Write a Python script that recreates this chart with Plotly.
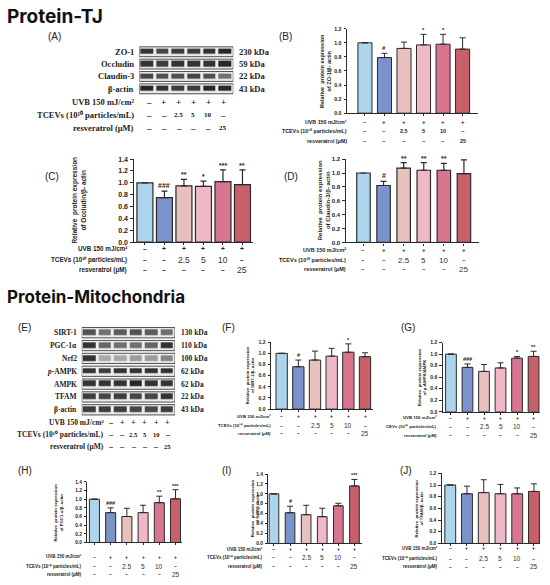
import plotly.graph_objects as go

W, H = 550, 585

# ---------------- data ----------------
groups = [0, 1, 2, 3, 4, 5]
lanes = [1, 2, 3, 4, 5, 6]
uvb_row = ["–", "+", "+", "+", "+", "+"]
tcev_row = ["–", "–", "2.5", "5", "10", "–"]
resv_row = ["–", "–", "–", "–", "–", "25"]
ticks_12 = [0.0, 0.2, 0.4, 0.6, 0.8, 1.0, 1.2]
ticks_14 = [0.0, 0.2, 0.4, 0.6, 0.8, 1.0, 1.2, 1.4]

# western blot (relative band darkness, 0-1)
tj_rows = ["ZO-1", "Occludin", "Claudin-3", "β-actin"]
tj_kda = ["230 kDa", "59 kDa", "22 kDa", "43 kDa"]
zo1_band = [0.85, 0.75, 0.80, 0.80, 0.85, 0.90]
occludin_band = [0.85, 0.80, 0.85, 0.85, 0.85, 0.90]
claudin3_band = [0.75, 0.70, 0.70, 0.75, 0.70, 0.55]
actin_tj_band = [0.90, 0.85, 0.80, 0.80, 0.90, 0.90]

mito_rows = ["SIRT-1", "PGC-1α", "Nrf2", "<i>p</i>-AMPK", "AMPK", "TFAM", "β-actin"]
mito_kda = ["130 kDa", "110 kDa", "100 kDa", "62 kDa", "62 kDa", "22 kDa", "43 kDa"]
sirt1_band = [0.70, 0.55, 0.65, 0.70, 0.65, 0.55]
pgc1a_band = [0.85, 0.60, 0.55, 0.55, 0.60, 0.85]
nrf2_band = [0.85, 0.30, 0.30, 0.35, 0.35, 0.45]
pampk_band = [0.85, 0.80, 0.85, 0.85, 0.85, 0.85]
ampk_band = [0.85, 0.85, 0.85, 0.90, 0.85, 0.85]
tfam_band = [0.80, 0.75, 0.80, 0.75, 0.75, 0.85]
actin_mito_band = [0.80, 0.80, 0.80, 0.75, 0.75, 0.80]

# quantification (mean, upper SD, significance)
zo1_mean = [1.0, 0.79, 0.92, 0.97, 0.98, 0.91]
zo1_err = [0, 0.06, 0.09, 0.15, 0.14, 0.16]
zo1_sig = ["", "#", "", "*", "*", ""]
occludin_mean = [1.0, 0.75, 0.95, 0.94, 1.02, 0.97]
occludin_err = [0, 0.11, 0.11, 0.09, 0.20, 0.25]
occludin_sig = ["", "###", "**", "*", "***", "**"]
claudin3_mean = [1.0, 0.82, 1.07, 1.04, 1.04, 0.99]
claudin3_err = [0, 0.06, 0.08, 0.11, 0.10, 0.20]
claudin3_sig = ["", "#", "**", "**", "**", ""]
sirt1_mean = [1.0, 0.76, 0.88, 0.95, 1.02, 0.94]
sirt1_err = [0, 0.12, 0.16, 0.14, 0.15, 0.07]
sirt1_sig = ["", "#", "", "", "*", ""]
pampk_mean = [1.0, 0.77, 0.70, 0.76, 0.93, 0.96]
pampk_err = [0, 0.06, 0.12, 0.09, 0.03, 0.09]
pampk_sig = ["", "###", "", "", "*", "**"]
pgc1a_mean = [1.0, 0.69, 0.60, 0.69, 0.92, 1.01]
pgc1a_err = [0, 0.11, 0.19, 0.17, 0.15, 0.21]
pgc1a_sig = ["", "###", "", "", "**", "***"]
nrf2_mean = [1.0, 0.62, 0.58, 0.54, 0.76, 1.16]
nrf2_err = [0, 0.13, 0.19, 0.17, 0.05, 0.13]
nrf2_sig = ["", "#", "", "", "", "***"]
tfam_mean = [1.0, 0.85, 0.87, 0.85, 0.85, 0.89]
tfam_err = [0, 0.13, 0.22, 0.16, 0.10, 0.13]
tfam_sig = ["", "", "", "", "", ""]

# ---------------- style ----------------
bar_colors = ["#acd5ec", "#7b93cb", "#e8c1bd", "#f0b8c6", "#d8758f", "#c8606a"]
edge = "#2a2a2a"
SANS = "Liberation Sans"
SERIF = "Liberation Serif"
UVB_LABEL = "UVB 150 mJ/cm²"
RESV_LABEL = "resveratrol (μM)"


def tcev_label(name):
    return name + " (10¹⁰ particles/mL)"


def fx(x):
    return x / W


def fy(y):
    return 1 - y / H


fig = go.Figure()
layout = dict(width=W, height=H, margin=dict(l=0, r=0, t=0, b=0),
              paper_bgcolor="white", plot_bgcolor="rgba(0,0,0,0)", showlegend=False)
annotations = []
shapes = []
counter = [0]


def new_axes(x0, x1, y_top, y_bot, xrange, yrange):
    counter[0] += 1
    n = counter[0]
    s = "" if n == 1 else str(n)
    layout["xaxis" + s] = dict(domain=[fx(x0), fx(x1)], range=xrange, anchor="y" + s,
                               visible=False, showgrid=False, zeroline=False)
    layout["yaxis" + s] = dict(domain=[fy(y_bot), fy(y_top)], range=yrange, anchor="x" + s,
                               visible=False, showgrid=False, zeroline=False)
    return "x" + s, "y" + s, s


def text_ann(x, y, text, size, xref="paper", yref="paper", xanchor="center",
             family=SANS, color="#222", angle=0, yanchor="middle", yshift=0):
    annotations.append(dict(x=x, y=y, xref=xref, yref=yref, text=text, showarrow=False,
                            xanchor=xanchor, yanchor=yanchor, textangle=angle, yshift=yshift,
                            font=dict(family=family, size=size, color=color)))


def blot_panel(box_x0, box_x1, row_top, pitch, names, kdas, bands, fs,
               sign_x0, sign_x1, sign_y0, sign_pitch, label_right, sign_fs, num_fs):
    n = len(names)
    xa, ya, s = new_axes(box_x0, box_x1, row_top, row_top + pitch * n, [0.5, 6.5], [n - 0.5, -0.5])
    fig.add_trace(go.Heatmap(z=bands, x=lanes, y=list(range(n)), zmin=0, zmax=1,
                             colorscale=[[0, "#efefef"], [0.5, "#7a7a7a"], [1, "#141414"]],
                             showscale=False, xgap=3, ygap=pitch * 0.55,
                             xaxis=xa, yaxis=ya, hoverinfo="skip"))
    for r in range(n):
        shapes.append(dict(type="rect", xref=xa, yref=ya, x0=0.5, x1=6.5, y0=r - 0.4, y1=r + 0.4,
                           line=dict(color="#3a3a3a", width=0.9), fillcolor="#ececec", layer="below"))
        text_ann(fx(box_x0 - 3), r, "<b>%s</b>" % names[r], fs, yref=ya, xanchor="right", family=SERIF)
        text_ann(fx(box_x1 + 4), r, "<b>%s</b>" % kdas[r], fs, yref=ya, xanchor="left", family=SERIF)
    # treatment table on its own (hidden) axes
    xb, yb, s2 = new_axes(sign_x0, sign_x1, sign_y0 - sign_pitch / 2, sign_y0 + sign_pitch * 2.5,
                          [0.5, 6.5], [2.5, -0.5])
    fig.add_trace(go.Scatter(x=lanes, y=[1] * 6, mode="markers", marker=dict(opacity=0, size=1),
                             xaxis=xb, yaxis=yb, hoverinfo="skip"))
    labels = [UVB_LABEL, tcev_label("TCEVs"), RESV_LABEL]
    for r, (lab, row) in enumerate(zip(labels, [uvb_row, tcev_row, resv_row])):
        text_ann(fx(label_right), r, "<b>%s</b>" % lab, fs, yref=yb, xanchor="right", family=SERIF)
        for i, t in enumerate(row):
            size = sign_fs if t in ("–", "+") else num_fs
            text_ann(lanes[i], r, "<b>%s</b>" % t, size, xref=xb, yref=yb, family=SERIF, color="#111")


def bar_panel(mean, err, sig, title2, ticks, x0, x1, y_top, y_bot, xrange, bw,
              title_x, title_fs, tick_fs, rows_y, label_right, label_fs, sign_fs, num_fs,
              star_fs, lw=1.0, cap=3, tcev_name="TCEVs", bold_nums=False, num_color="#333"):
    xa, ya, s = new_axes(x0, x1, y_top, y_bot, xrange, [0, ticks[-1]])
    fig.add_trace(go.Bar(x=groups, y=mean, width=bw,
                         marker=dict(color=bar_colors, line=dict(color=edge, width=lw)),
                         error_y=dict(type="data", symmetric=False, array=err, arrayminus=[0] * 6,
                                      color=edge, thickness=lw, width=cap),
                         xaxis=xa, yaxis=ya, hoverinfo="skip"))
    layout["xaxis" + s].update(visible=True, showline=True, linecolor=edge, linewidth=lw,
                               ticks="outside", ticklen=2, tickwidth=lw, tickcolor=edge,
                               tickvals=groups, showticklabels=False)
    layout["yaxis" + s].update(visible=True, showline=True, linecolor=edge, linewidth=lw,
                               ticks="outside", ticklen=2.5, tickwidth=lw, tickcolor=edge,
                               tickvals=ticks, ticktext=["<b>%.1f</b>" % t for t in ticks],
                               tickfont=dict(family=SANS, size=tick_fs, color="#222"),
                               ticklabelstandoff=1)
    for i in groups:
        if sig[i]:
            text_ann(i, mean[i] + err[i], "<b>%s</b>" % sig[i], star_fs, xref=xa, yref=ya,
                     yanchor="bottom", yshift=-1 if "*" in sig[i] else 0)
    text_ann(fx(title_x), fy((y_top + y_bot) / 2),
             "<b>Relative  protein expression<br>%s</b>" % title2, title_fs, angle=-90)
    labels = [UVB_LABEL, tcev_label(tcev_name), RESV_LABEL]
    for r, (lab, row) in enumerate(zip(labels, [uvb_row, tcev_row, resv_row])):
        text_ann(fx(label_right), fy(rows_y[r]), "<b>%s</b>" % lab, label_fs, xanchor="right")
        for i in groups:
            t = row[i]
            if t in ("–", "+"):
                text_ann(i, fy(rows_y[r]), "<b>%s</b>" % t, sign_fs, xref=xa)
            else:
                txt = "<b>%s</b>" % t if bold_nums else t
                text_ann(i, fy(rows_y[r]), txt, num_fs, xref=xa, color=num_color)


# ---------------- Protein-TJ ----------------
text_ann(fx(5), fy(13), "<b>Protein-TJ</b>", 19, xanchor="left", family="Inter", color="#111")
blot_panel(139.3, 233.3, 42.1, 12.5, tj_rows, tj_kda,
           [zo1_band, occludin_band, claudin3_band, actin_tj_band], 8.5,
           141.6, 230.4, 99, 13.5, 135.5, 9, 7)
text_ann(fx(54), fy(33), "(A)", 10)

bar_panel(zo1_mean, zo1_err, zo1_sig, "of ZO-1/β- actin", ticks_12, 347, 478, 25, 110.5,
          [-0.92, 5.79], 0.72, 326, 5.5, 5.2, [119, 129, 139], 349, 5.3, 6, 5.5, 6,
          bold_nums=True, num_color="#222")
text_ann(fx(285), fy(33), "(B)", 10)

bar_panel(occludin_mean, occludin_err, occludin_sig, "of Occludin/β- actin", ticks_14, 134, 253,
          157, 241, [-0.56, 5.54], 0.82, 79, 6.5, 7, [247.7, 259, 268.8], 128.5, 6.3, 6.5, 8.5, 7,
          lw=1.2)
text_ann(fx(52), fy(175), "(C)", 10)

bar_panel(claudin3_mean, claudin3_err, claudin3_sig, "of Claudin-3/β- actin", ticks_12, 346, 479,
          157, 241.3, [-0.87, 5.75], 0.67, 323.5, 6, 6, [249.3, 259.3, 268.3], 348, 5.5, 6, 8, 7,
          lw=1.2)
text_ann(fx(291), fy(175), "(D)", 10)

# ---------------- Protein-Mitochondria ----------------
text_ann(fx(5), fy(297), "<b>Protein-Mitochondria</b>", 17, xanchor="left", family="Inter", color="#111")
blot_panel(81.7, 175, 326.2, 13, mito_rows, mito_kda,
           [sirt1_band, pgc1a_band, nrf2_band, pampk_band, ampk_band, tfam_band, actin_mito_band],
           7.5, 105.0, 173.4, 423.3, 12.35, 106, 8, 6.5)
text_ann(fx(24), fy(327), "(E)", 10)

bar_panel(sirt1_mean, sirt1_err, sirt1_sig, "of SIRT-1/β- actin", ticks_12, 271, 373, 342.3, 410,
          [-0.64, 5.48], 0.68, 250.5, 4.3, 5, [417.3, 426.7, 434.5], 273, 4.3, 5, 6.5, 5.5)
text_ann(fx(228), fy(327), "(F)", 10)

bar_panel(pampk_mean, pampk_err, pampk_sig, "of p-AMPK/AMPK", ticks_12, 442.7, 540, 342.7, 412.7,
          [-0.5, 5.39], 0.65, 422, 4.3, 5, [419, 427.7, 436.7], 438.5, 4.3, 5, 6.5, 5.5,
          tcev_name="CEVs")
text_ann(fx(408), fy(327), "(G)", 10)

bar_panel(pgc1a_mean, pgc1a_err, pgc1a_sig, "of PGC1-α/β- actin", ticks_14, 87.3, 181.7, 483.7, 545,
          [-0.44, 5.38], 0.62, 58.3, 4.3, 4.8, [559.3, 569, 577], 83.5, 4.5, 5, 6.5, 5.5)
text_ann(fx(25), fy(472), "(H)", 10)

bar_panel(nrf2_mean, nrf2_err, nrf2_sig, "of Nrf2/β- actin", ticks_14, 268.3, 361.7, 475.7, 546,
          [-0.35, 5.45], 0.6, 255.5, 4.3, 4.8, [551.7, 560, 569], 265, 4.5, 5, 6.5, 5.5)
text_ann(fx(226), fy(472), "(I)", 10)

bar_panel(tfam_mean, tfam_err, tfam_sig, "of TFAM/β- actin", ticks_12, 441.7, 540, 475, 546,
          [-0.51, 5.36], 0.65, 419, 4.3, 4.8, [551, 561.7, 569.5], 440, 4.5, 5, 6.5, 5.5)
text_ann(fx(406), fy(472), "(J)", 10)

layout["annotations"] = annotations
layout["shapes"] = shapes
fig.update_layout(**layout)
fig.write_html("out.html", config={"displayModeBar": False},
               post_script="document.body.style.margin='0px';document.body.style.overflow='hidden';")
